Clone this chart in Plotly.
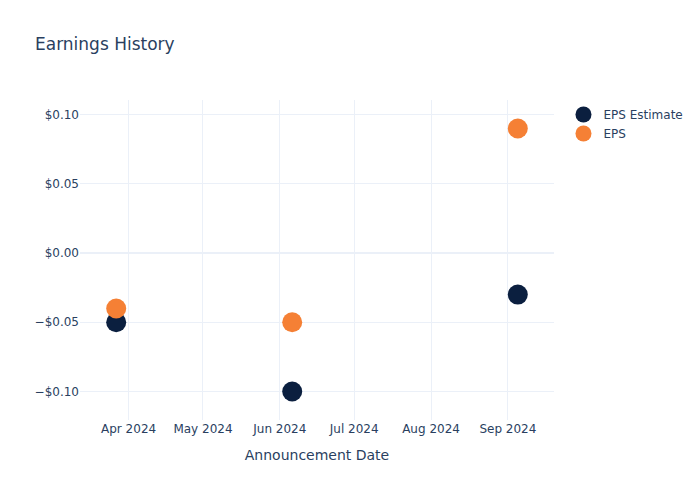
import plotly.graph_objects as go

dates = ["2024-03-27", "2024-06-06", "2024-09-05"]
eps_estimate = [-0.05, -0.10, -0.03]
eps_actual = [-0.04, -0.05, 0.09]

fig = go.Figure()
fig.add_trace(go.Scatter(x=dates, y=eps_estimate, mode="markers", name="EPS Estimate",
                         marker=dict(color="#0b1f3f", size=20)))
fig.add_trace(go.Scatter(x=dates, y=eps_actual, mode="markers", name="EPS",
                         marker=dict(color="#f58035", size=20)))
fig.update_layout(
    template="plotly_white",
    width=700, height=500,
    font=dict(family="DejaVu Sans, Verdana, sans-serif"),
    title=dict(text="Earnings History"),
    xaxis=dict(title="Announcement Date"),
    yaxis=dict(tickformat="$.2f"),
)
fig.write_html("out.html")
